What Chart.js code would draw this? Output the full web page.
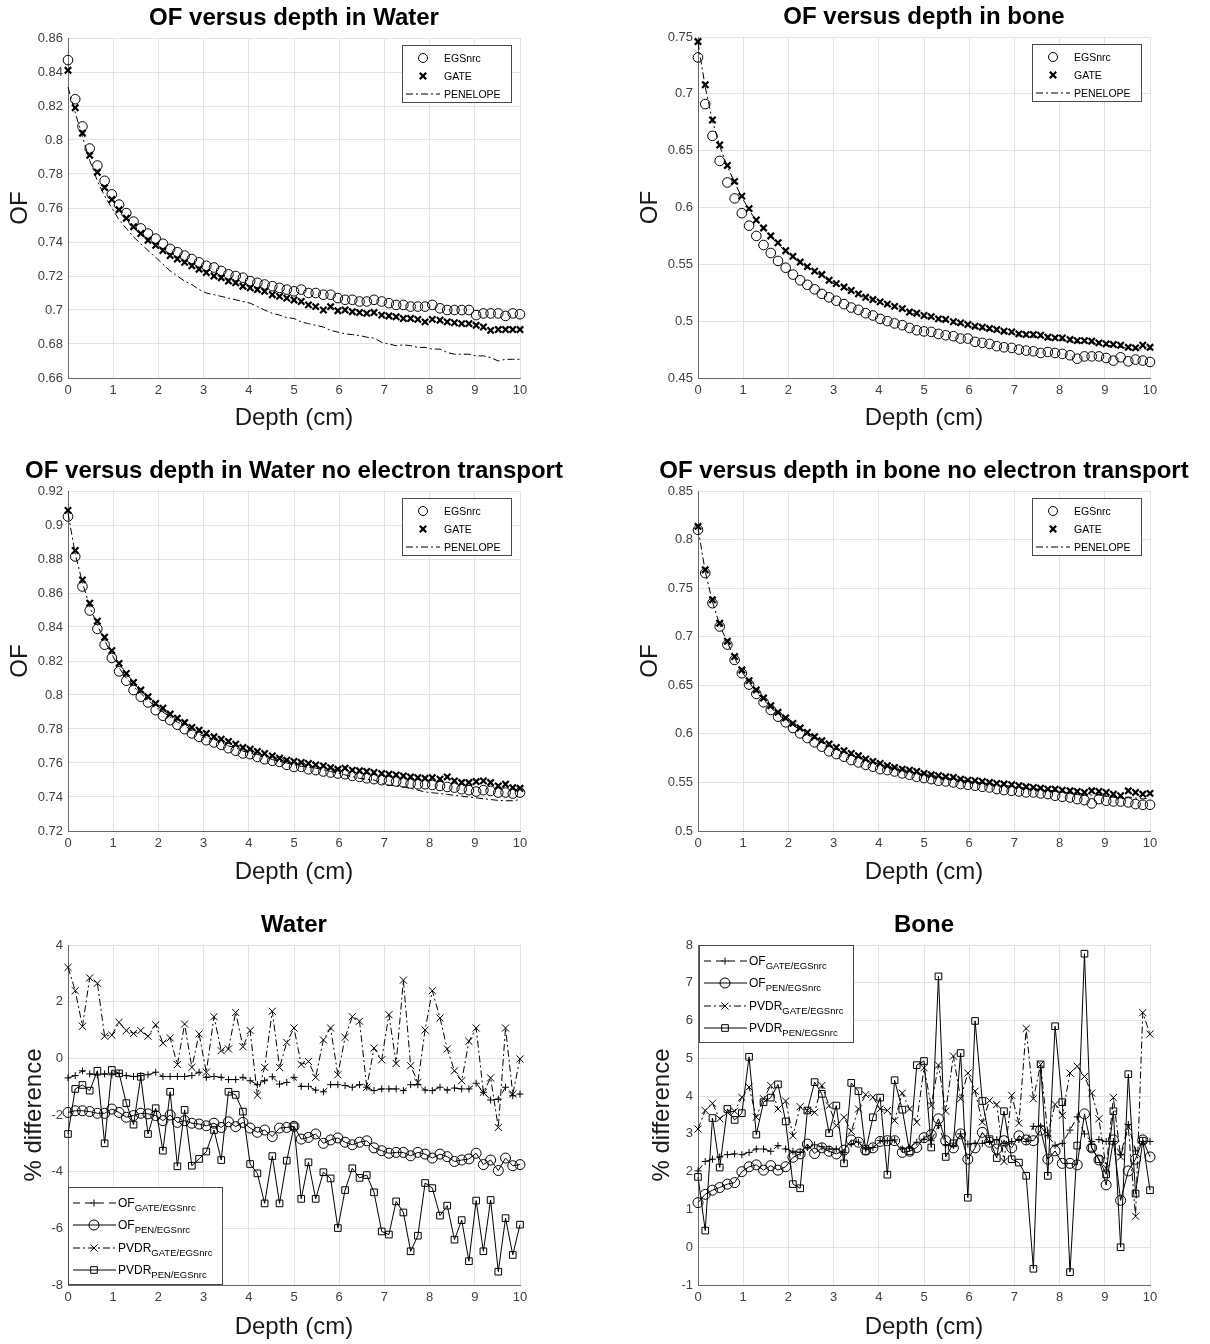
<!DOCTYPE html>
<html>
<head>
<meta charset="utf-8">
<title>OF versus depth</title>
<script src="https://cdn.jsdelivr.net/npm/chart.js@4.4.1/dist/chart.umd.min.js"></script>
<style>
  html, body { margin: 0; padding: 0; background: #fff; }
  #page { position: relative; width: 1210px; height: 1344px; overflow: hidden; }
  #page canvas { position: absolute; }
</style>
</head>
<body>
<div id="page">
  <canvas id="c1" width="605" height="448" style="left:0;top:0"></canvas>
  <canvas id="c2" width="605" height="448" style="left:605px;top:0"></canvas>
  <canvas id="c3" width="605" height="448" style="left:0;top:448px"></canvas>
  <canvas id="c4" width="605" height="448" style="left:605px;top:448px"></canvas>
  <canvas id="c5" width="605" height="448" style="left:0;top:896px"></canvas>
  <canvas id="c6" width="605" height="448" style="left:605px;top:896px"></canvas>
</div>
<script>
// depth positions (cm), shared by every series
const depthCm = [
  0, 0.16, 0.32, 0.48, 0.65, 0.81, 0.97, 1.13, 1.29, 1.45,
  1.61, 1.77, 1.94, 2.10, 2.26, 2.42, 2.58, 2.74, 2.90, 3.06,
  3.23, 3.39, 3.55, 3.71, 3.87, 4.03, 4.19, 4.35, 4.52, 4.68,
  4.84, 5.00, 5.16, 5.32, 5.48, 5.65, 5.81, 5.97, 6.13, 6.29,
  6.45, 6.61, 6.77, 6.94, 7.10, 7.26, 7.42, 7.58, 7.74, 7.90,
  8.06, 8.23, 8.39, 8.55, 8.71, 8.87, 9.03, 9.19, 9.35, 9.52,
  9.68, 9.84, 10.00
];

// OF in water
const waterEgs = [
  0.847, 0.824, 0.808, 0.795, 0.785, 0.776, 0.768, 0.762, 0.757, 0.752,
  0.748, 0.745, 0.742, 0.739, 0.736, 0.734, 0.732, 0.730, 0.728, 0.726,
  0.725, 0.723, 0.721, 0.720, 0.719, 0.717, 0.716, 0.715, 0.714, 0.713,
  0.712, 0.711, 0.712, 0.710, 0.710, 0.709, 0.709, 0.707, 0.706, 0.706,
  0.705, 0.705, 0.706, 0.705, 0.704, 0.703, 0.703, 0.702, 0.702, 0.702,
  0.703, 0.701, 0.700, 0.700, 0.700, 0.700, 0.697, 0.698, 0.698, 0.698,
  0.6965, 0.698, 0.6975
];
const waterGate = [
  0.841, 0.819, 0.804, 0.791, 0.781, 0.772, 0.765, 0.759, 0.754, 0.749,
  0.745, 0.741, 0.738, 0.735, 0.732, 0.730, 0.728, 0.726, 0.724, 0.722,
  0.720, 0.719, 0.717, 0.716, 0.714, 0.713, 0.712, 0.711, 0.709, 0.708,
  0.707, 0.7059, 0.705, 0.703, 0.702, 0.700, 0.702, 0.6996, 0.700, 0.699,
  0.6985, 0.698, 0.6985, 0.697, 0.6965, 0.696, 0.695, 0.695, 0.6945, 0.693,
  0.6945, 0.694, 0.693, 0.6925, 0.692, 0.692, 0.691, 0.690, 0.688, 0.6885,
  0.6885, 0.6885, 0.6885
];
const waterPen = [
  0.831, 0.816, 0.802, 0.788, 0.776, 0.767, 0.760, 0.753, 0.748, 0.743,
  0.739, 0.735, 0.731, 0.727, 0.723, 0.720, 0.717, 0.715, 0.712, 0.710,
  0.709, 0.708, 0.707, 0.706, 0.705, 0.704, 0.702, 0.700, 0.698, 0.697,
  0.6955, 0.695, 0.693, 0.692, 0.691, 0.690, 0.688, 0.687, 0.686, 0.6855,
  0.685, 0.684, 0.6835, 0.681, 0.680, 0.679, 0.6795, 0.679, 0.678, 0.678,
  0.677, 0.677, 0.675, 0.674, 0.674, 0.674, 0.673, 0.673, 0.672, 0.670,
  0.671, 0.671, 0.671
];

// OF in bone
const boneEgs = [
  0.732, 0.691, 0.663, 0.641, 0.622, 0.608, 0.595, 0.584, 0.575, 0.567,
  0.560, 0.553, 0.547, 0.541, 0.536, 0.532, 0.528, 0.524, 0.521, 0.518,
  0.515, 0.512, 0.510, 0.507, 0.505, 0.502, 0.500, 0.498, 0.4965, 0.494,
  0.492, 0.491, 0.4906, 0.4888, 0.4876, 0.4868, 0.4847, 0.4847, 0.4818, 0.4809,
  0.480, 0.478, 0.477, 0.4765, 0.475, 0.4741, 0.4735, 0.472, 0.4729, 0.472,
  0.4712, 0.470, 0.467, 0.469, 0.469, 0.469, 0.4676, 0.4653, 0.4682, 0.4647,
  0.4662, 0.4653, 0.4641
];
const boneGate = [
  0.746, 0.708, 0.677, 0.655, 0.637, 0.623, 0.610, 0.599, 0.589, 0.582,
  0.575, 0.569, 0.562, 0.557, 0.552, 0.548, 0.544, 0.541, 0.536, 0.533,
  0.530, 0.527, 0.524, 0.521, 0.519, 0.517, 0.515, 0.513, 0.511, 0.508,
  0.507, 0.505, 0.504, 0.502, 0.5015, 0.4995, 0.4985, 0.497, 0.4956, 0.4947,
  0.4935, 0.4926, 0.4912, 0.4906, 0.4888, 0.4882, 0.4882, 0.4876, 0.4859, 0.4853,
  0.4853, 0.4838, 0.4829, 0.4829, 0.4824, 0.4809, 0.480, 0.4794, 0.4788, 0.477,
  0.4765, 0.4788, 0.477
];
const bonePen = [
  0.745, 0.706, 0.676, 0.654, 0.636, 0.622, 0.609, 0.598, 0.588, 0.581,
  0.574, 0.568, 0.561, 0.556, 0.551, 0.547, 0.543, 0.540, 0.535, 0.532,
  0.529, 0.526, 0.523, 0.520, 0.518, 0.516, 0.514, 0.512, 0.510, 0.507,
  0.506, 0.504, 0.503, 0.501, 0.500, 0.498, 0.497, 0.496, 0.494, 0.493,
  0.492, 0.491, 0.490, 0.489, 0.487, 0.487, 0.486, 0.486, 0.484, 0.484,
  0.483, 0.482, 0.481, 0.481, 0.481, 0.479, 0.479, 0.478, 0.477, 0.476,
  0.475, 0.476, 0.475
];

// OF in water, no electron transport
const waterNoEEgs = [
  0.905, 0.8815, 0.8638, 0.8497, 0.8389, 0.8296, 0.8218, 0.8139, 0.8084, 0.8029,
  0.799, 0.7956, 0.7911, 0.7878, 0.7852, 0.7825, 0.7799, 0.7774, 0.7754, 0.7734,
  0.7721, 0.7707, 0.7687, 0.7672, 0.7656, 0.7652, 0.7636, 0.7622, 0.7613, 0.7607,
  0.7589, 0.7577, 0.7577, 0.7563, 0.7558, 0.755, 0.7544, 0.7538, 0.7534, 0.7524,
  0.7518, 0.751, 0.7505, 0.7499, 0.7495, 0.7491, 0.7485, 0.7479, 0.7475, 0.7475,
  0.7471, 0.7465, 0.7459, 0.7455, 0.7446, 0.744, 0.7432, 0.744, 0.7436, 0.7426,
  0.7426, 0.742, 0.7426
];
const waterNoEGate = [
  0.9086, 0.885, 0.8677, 0.854, 0.8434, 0.834, 0.8261, 0.8186, 0.8127, 0.8074,
  0.8029, 0.799, 0.795, 0.7923, 0.7888, 0.7864, 0.7838, 0.7809, 0.7793, 0.7774,
  0.7754, 0.774, 0.7727, 0.7711, 0.7691, 0.7681, 0.7668, 0.7656, 0.7642, 0.7628,
  0.7617, 0.7609, 0.7603, 0.7597, 0.7589, 0.7583, 0.7573, 0.7563, 0.757, 0.7558,
  0.7554, 0.755, 0.7544, 0.7538, 0.7534, 0.753, 0.7524, 0.7518, 0.7514, 0.751,
  0.7514, 0.7505, 0.7518, 0.7495, 0.7485, 0.7485, 0.7491, 0.7495, 0.7485, 0.7465,
  0.7475, 0.7455, 0.7451
];
const waterNoEPen = [
  0.907, 0.883, 0.866, 0.852, 0.841, 0.832, 0.824, 0.816, 0.810, 0.805,
  0.801, 0.797, 0.793, 0.790, 0.787, 0.784, 0.782, 0.779, 0.777, 0.775,
  0.774, 0.772, 0.770, 0.769, 0.767, 0.766, 0.765, 0.764, 0.762, 0.761,
  0.760, 0.759, 0.758, 0.7575, 0.757, 0.756, 0.755, 0.754, 0.753, 0.752,
  0.751, 0.7505, 0.750, 0.748, 0.747, 0.7465, 0.746, 0.745, 0.744, 0.743,
  0.7425, 0.742, 0.7415, 0.741, 0.7405, 0.740, 0.7395, 0.739, 0.7385, 0.738,
  0.7378, 0.7378, 0.7385
];

// OF in bone, no electron transport
const boneNoEEgs = [
  0.810, 0.7655, 0.7345, 0.7105, 0.6919, 0.6761, 0.6624, 0.6507, 0.6411, 0.6325,
  0.6246, 0.6177, 0.6119, 0.606, 0.6005, 0.5957, 0.5912, 0.5868, 0.582, 0.5792,
  0.5765, 0.573, 0.5706, 0.5682, 0.5662, 0.5637, 0.5627, 0.5613, 0.5593, 0.5579,
  0.5558, 0.5545, 0.5534, 0.5517, 0.551, 0.55, 0.5483, 0.5476, 0.5466, 0.5455,
  0.5448, 0.5431, 0.5421, 0.5414, 0.5407, 0.5397, 0.5397, 0.5387, 0.538, 0.5363,
  0.5352, 0.5345, 0.5328, 0.5318, 0.5284, 0.5328, 0.5311, 0.5304, 0.5304, 0.5294,
  0.5277, 0.527, 0.527
];
const boneNoEGate = [
  0.8136, 0.7689, 0.738, 0.7139, 0.6954, 0.6796, 0.6658, 0.6548, 0.6452, 0.6369,
  0.629, 0.6222, 0.6163, 0.6108, 0.606, 0.6015, 0.5971, 0.593, 0.5895, 0.5861,
  0.5827, 0.5799, 0.5775, 0.5741, 0.5717, 0.5696, 0.5672, 0.5655, 0.5637, 0.5627,
  0.5613, 0.5593, 0.5579, 0.5569, 0.5558, 0.5552, 0.5534, 0.5524, 0.5517, 0.551,
  0.55, 0.549, 0.5483, 0.5476, 0.5466, 0.5455, 0.5448, 0.5441, 0.5431, 0.5431,
  0.5421, 0.5414, 0.5407, 0.5397, 0.5414, 0.5407, 0.5397, 0.538, 0.5363, 0.5414,
  0.5397, 0.538, 0.5387
];
const boneNoEPen = [
  0.812, 0.767, 0.736, 0.712, 0.694, 0.678, 0.664, 0.653, 0.643, 0.635,
  0.627, 0.620, 0.614, 0.609, 0.604, 0.599, 0.595, 0.591, 0.587, 0.584,
  0.581, 0.578, 0.576, 0.573, 0.571, 0.569, 0.566, 0.564, 0.562, 0.561,
  0.559, 0.558, 0.557, 0.556, 0.554, 0.553, 0.552, 0.551, 0.550, 0.549,
  0.548, 0.548, 0.547, 0.546, 0.545, 0.544, 0.543, 0.543, 0.542, 0.541,
  0.540, 0.539, 0.539, 0.538, 0.537, 0.537, 0.536, 0.535, 0.534, 0.535,
  0.534, 0.533, 0.534
];

// % difference, water
const waterOfGate = [
  -0.69, -0.61, -0.44, -0.55, -0.59, -0.55, -0.58, -0.53, -0.61, -0.64,
  -0.61, -0.58, -0.49, -0.64, -0.64, -0.64, -0.64, -0.61, -0.49, -0.67,
  -0.64, -0.67, -0.75, -0.75, -0.67, -0.79, -0.93, -0.79, -0.65, -0.91,
  -0.85, -0.67, -0.99, -0.99, -1.12, -1.18, -0.93, -0.93, -0.96, -1.02,
  -0.93, -1.02, -1.14, -1.08, -1.08, -1.08, -1.14, -0.93, -0.93, -1.12,
  -1.14, -1.02, -1.12, -1.05, -1.08, -1.08, -0.88, -1.20, -1.47, -1.44,
  -1.02, -1.32, -1.26
];
const waterOfPen = [
  -1.91, -1.85, -1.85, -1.88, -1.94, -1.94, -1.79, -1.91, -2.08, -2.02,
  -1.94, -1.96, -2.02, -2.20, -2.00, -2.26, -2.20, -2.29, -2.32, -2.38,
  -2.29, -2.44, -2.24, -2.41, -2.26, -2.46, -2.61, -2.53, -2.76, -2.46,
  -2.44, -2.40, -2.85, -2.79, -2.67, -3.00, -2.88, -2.81, -2.96, -3.05,
  -2.96, -2.91, -3.16, -3.26, -3.35, -3.32, -3.32, -3.44, -3.32, -3.38,
  -3.52, -3.38, -3.47, -3.64, -3.59, -3.55, -3.35, -3.75, -3.59, -3.96,
  -3.52, -3.79, -3.75
];
const waterPvdrGate = [
  3.21, 2.39, 1.13, 2.84, 2.65, 0.78, 0.82, 1.27, 0.98, 0.88,
  0.98, 0.78, 1.18, 0.54, 0.72, -0.22, 1.21, -0.32, 0.86, -0.49,
  1.47, 0.27, 0.33, 1.62, 0.41, 0.98, -1.30, -0.32, 1.66, -0.32,
  0.56, 1.07, -0.22, -0.11, -0.67, 0.65, 1.07, -0.58, 0.74, 1.47,
  1.31, -1.02, 0.36, -0.05, 1.54, -0.18, 2.76, -0.26, -0.85, 1.00,
  2.39, 1.42, 0.33, -0.44, -0.79, 0.60, 1.07, -1.20, -0.69, -2.44,
  1.07, -1.26, -0.02
];
const waterPvdrPen = [
  -2.67, -1.08, -0.94, -1.14, -0.44, -3.00, -0.41, -0.53, -1.58, -2.34,
  -0.65, -2.67, -1.76, -3.26, -1.18, -3.81, -1.82, -3.79, -3.55, -3.29,
  -2.53, -3.59, -1.18, -1.29, -1.88, -3.73, -4.06, -5.12, -3.45, -5.12,
  -3.61, -2.40, -4.96, -3.67, -4.96, -4.02, -4.24, -5.99, -4.65, -3.88,
  -4.22, -4.12, -4.73, -6.11, -6.22, -5.05, -5.44, -6.81, -6.26, -4.40,
  -4.58, -5.55, -5.20, -6.40, -5.71, -7.16, -5.02, -6.81, -5.00, -7.53,
  -5.64, -6.94, -5.87
];

// % difference, bone
const boneOfGate = [
  2.02, 2.27, 2.33, 2.39, 2.45, 2.47, 2.45, 2.51, 2.60, 2.60,
  2.54, 2.69, 2.60, 2.54, 2.51, 2.64, 2.71, 2.66, 2.60, 2.60,
  2.51, 2.73, 2.78, 2.60, 2.64, 2.82, 2.82, 2.84, 2.60, 2.63,
  2.78, 2.86, 2.82, 3.22, 2.71, 2.69, 3.00, 2.73, 2.75, 2.75,
  2.80, 2.85, 2.75, 2.80, 2.85, 2.80, 3.20, 3.20, 2.95, 2.70,
  2.75, 3.10, 3.45, 3.00, 2.80, 2.85, 2.80, 2.80, 2.45, 3.25,
  2.55, 2.80, 2.80
];
const boneOfPen = [
  1.18, 1.40, 1.51, 1.58, 1.67, 1.71, 2.00, 2.13, 2.18, 2.04,
  2.16, 2.04, 2.13, 2.38, 2.47, 2.73, 2.48, 2.63, 2.54, 2.47,
  2.57, 2.84, 2.78, 2.57, 2.63, 2.80, 2.82, 2.82, 2.51, 2.54,
  2.64, 2.90, 2.98, 3.40, 2.82, 2.63, 3.00, 2.33, 2.63, 3.04,
  2.78, 2.60, 2.82, 2.63, 2.95, 2.84, 2.82, 3.10, 2.33, 2.55,
  2.22, 2.22, 2.18, 3.53, 2.63, 2.31, 1.65, 2.84, 1.24, 2.02,
  2.33, 2.84, 2.39
];
const bonePvdrGate = [
  3.13, 3.62, 3.81, 3.40, 3.57, 3.60, 3.97, 4.24, 3.44, 3.93,
  4.28, 3.66, 3.87, 2.95, 3.72, 3.62, 3.57, 4.28, 3.75, 3.22,
  3.44, 3.07, 3.66, 4.04, 3.97, 3.66, 3.62, 3.35, 4.08, 3.66,
  3.31, 4.75, 3.75, 4.82, 3.60, 5.06, 3.93, 4.61, 4.13, 3.31,
  3.88, 3.78, 2.27, 4.02, 3.28, 5.79, 3.93, 4.84, 3.00, 3.78,
  3.49, 4.61, 4.79, 4.52, 4.08, 3.40, 2.09, 3.96, 2.39, 3.18,
  0.82, 6.21, 5.64
];
const bonePvdrPen = [
  1.86, 0.44, 3.42, 2.11, 3.66, 3.37, 3.55, 5.04, 2.98, 3.84,
  3.96, 4.31, 3.33, 1.67, 1.56, 3.62, 4.37, 4.06, 3.02, 3.75,
  2.22, 4.35, 4.13, 2.55, 3.44, 3.96, 1.92, 4.42, 3.64, 2.54,
  4.82, 4.93, 2.64, 7.17, 2.39, 2.75, 5.14, 1.31, 5.99, 3.87,
  2.86, 2.36, 3.60, 2.33, 2.24, 1.89, -0.57, 4.84, 1.89, 5.85,
  3.84, -0.66, 2.69, 7.77, 2.63, 2.33, 1.93, 3.60, 0.00, 4.58,
  1.42, 2.82, 1.51
];

const FONT = '"Liberation Sans", Arial, Helvetica, sans-serif';
const DASH_DOT = [7, 3, 2, 3];
const DASHED = [7, 5];

function pts(arr) {
  return depthCm.map((d, i) => ({ x: d, y: arr[i] }));
}

function markerOnly(label, arr, style, r, bw) {
  return {
    label, data: pts(arr), showLine: false, clip: false,
    pointStyle: style, pointRadius: r, pointBorderWidth: bw,
    pointBorderColor: '#000', pointBackgroundColor: 'rgba(0,0,0,0)'
  };
}

function lineOnly(label, arr, dash) {
  return {
    label, data: pts(arr), borderColor: '#000', borderWidth: 1, clip: false,
    borderDash: dash, pointRadius: 0, tension: 0, fill: false
  };
}

function lineMarker(label, arr, dash, style, r) {
  return {
    label, data: pts(arr), borderColor: '#000', borderWidth: 1, borderDash: dash,
    tension: 0, fill: false, clip: false, pointStyle: style, pointRadius: r, pointBorderWidth: 1,
    pointBorderColor: '#000', pointBackgroundColor: 'rgba(0,0,0,0)'
  };
}

function drawMarker(ctx, style, x, y, r) {
  ctx.beginPath();
  if (style === 'circle') {
    ctx.arc(x, y, r, 0, Math.PI * 2);
  } else if (style === 'rect') {
    const s = r * Math.SQRT1_2;
    ctx.rect(x - s, y - s, 2 * s, 2 * s);
  } else if (style === 'cross') {
    ctx.moveTo(x - r, y); ctx.lineTo(x + r, y);
    ctx.moveTo(x, y - r); ctx.lineTo(x, y + r);
  } else if (style === 'crossRot') {
    const s = r * Math.SQRT1_2;
    ctx.moveTo(x - s, y - s); ctx.lineTo(x + s, y + s);
    ctx.moveTo(x + s, y - s); ctx.lineTo(x - s, y + s);
  }
  ctx.stroke();
}

// bold title above the plot area
const panelTitle = {
  id: 'panelTitle',
  afterDraw(chart, args, opts) {
    const a = chart.chartArea, ctx = chart.ctx;
    ctx.save();
    ctx.font = 'bold 24px ' + FONT;
    ctx.fillStyle = '#000';
    ctx.textAlign = 'center';
    ctx.textBaseline = 'middle';
    ctx.fillText(opts.text, (a.left + a.right) / 2, a.top - 20);
    ctx.restore();
  }
};

// boxed legend drawn inside the axes, matlab style
const boxLegend = {
  id: 'boxLegend',
  afterDraw(chart, args, o) {
    if (!o || !o.items) return;
    const ctx = chart.ctx, a = chart.chartArea;
    const x0 = o.anchor === 'tr' ? a.right - o.dx - o.w : a.left + o.dx;
    const y0 = o.anchor === 'bl' ? a.bottom - o.h : a.top + o.dy;
    ctx.save();
    ctx.fillStyle = '#fff';
    ctx.fillRect(x0, y0, o.w, o.h);
    ctx.strokeStyle = '#4a4a4a';
    ctx.lineWidth = 1;
    ctx.strokeRect(Math.round(x0) + 0.5, Math.round(y0) + 0.5, o.w - 1, o.h - 1);
    o.items.forEach((it, k) => {
      const y = y0 + o.rows[k];
      ctx.strokeStyle = '#000';
      ctx.lineWidth = 1;
      if (it.line) {
        ctx.setLineDash(it.line);
        ctx.beginPath();
        ctx.moveTo(x0 + o.line[0], y);
        ctx.lineTo(x0 + o.line[1], y);
        ctx.stroke();
        ctx.setLineDash([]);
      }
      if (it.marker) {
        ctx.lineWidth = it.mw || 1;
        drawMarker(ctx, it.marker, x0 + o.markerX, y, it.r);
        ctx.lineWidth = 1;
      }
      ctx.fillStyle = '#000';
      ctx.textAlign = 'left';
      ctx.textBaseline = 'alphabetic';
      ctx.font = o.fontSize + 'px ' + FONT;
      const tx = x0 + o.textX;
      const base = y + o.fontSize * 0.36;
      ctx.fillText(it.label, tx, base);
      if (it.sub) {
        const lw = ctx.measureText(it.label).width;
        ctx.font = o.subSize + 'px ' + FONT;
        ctx.fillText(it.sub, tx + lw, base + 4);
      }
    });
    ctx.restore();
  }
};

const fmt = v => String(Math.round(v * 1000) / 1000);

function makeChart(id, cfg) {
  return new Chart(document.getElementById(id), {
    type: 'line',
    data: { datasets: cfg.datasets },
    plugins: [panelTitle, boxLegend],
    options: {
      responsive: false,
      animation: false,
      devicePixelRatio: 1,
      layout: { padding: { top: cfg.top, right: cfg.right, left: 0, bottom: 0 } },
      plugins: {
        legend: { display: false },
        tooltip: { enabled: false },
        panelTitle: { text: cfg.title },
        boxLegend: cfg.legend
      },
      scales: {
        x: {
          type: 'linear', min: 0, max: 10,
          ticks: { stepSize: 1, padding: 5, color: '#404040', autoSkip: false, maxRotation: 0,
                   font: { size: 13, family: FONT }, callback: fmt },
          grid: { color: '#e3e3e3', drawTicks: false },
          border: { color: '#6a6a6a', width: 1 },
          title: { display: true, text: 'Depth (cm)', color: '#1a1a1a',
                   font: { size: 24, family: FONT }, padding: { top: 0, bottom: cfg.xTitlePad } },
          afterFit: s => { s.height = cfg.xH; }
        },
        y: {
          type: 'linear', min: cfg.yMin, max: cfg.yMax,
          ticks: { stepSize: cfg.yStep, padding: 5, color: '#404040', autoSkip: false,
                   font: { size: 13, family: FONT }, callback: fmt },
          grid: { color: '#e3e3e3', drawTicks: false },
          border: { color: '#6a6a6a', width: 1 },
          title: { display: true, text: cfg.yTitle, color: '#1a1a1a',
                   font: { size: 24, family: FONT }, padding: { top: cfg.yTitlePad, bottom: 0 } },
          afterFit: s => { s.width = cfg.yW; }
        }
      }
    }
  });
}

const topLegend = {
  anchor: 'tr', dx: 8, dy: 7, w: 110, h: 58,
  rows: [13, 31, 49], line: [4, 38], markerX: 21, textX: 42,
  fontSize: 10.5, subSize: 9,
  items: [
    { label: 'EGSnrc', marker: 'circle', r: 4.5 },
    { label: 'GATE', marker: 'crossRot', r: 4.5, mw: 2.2 },
    { label: 'PENELOPE', line: DASH_DOT }
  ]
};

function diffLegend(anchor, dx) {
  return {
    anchor, dx, dy: 0, w: 155, h: 98,
    rows: [16, 38, 61, 83], line: [5, 48], markerX: 26, textX: 50,
    fontSize: 12, subSize: 9.5,
    items: [
      { label: 'OF', sub: 'GATE/EGSnrc', line: DASHED, marker: 'cross', r: 3.5 },
      { label: 'OF', sub: 'PEN/EGSnrc', line: [], marker: 'circle', r: 5 },
      { label: 'PVDR', sub: 'GATE/EGSnrc', line: DASH_DOT, marker: 'crossRot', r: 5 },
      { label: 'PVDR', sub: 'PEN/EGSnrc', line: [], marker: 'rect', r: 4.7 }
    ]
  };
}

function ofSets(egs, gate, pen) {
  return [
    markerOnly('GATE', gate, 'crossRot', 4.5, 2.2),
    markerOnly('EGSnrc', egs, 'circle', 4.8, 1),
    lineOnly('PENELOPE', pen, DASH_DOT)
  ];
}

function diffSets(ofGate, ofPen, pvdrGate, pvdrPen) {
  return [
    lineMarker('OF GATE/EGSnrc', ofGate, DASHED, 'cross', 3.5),
    lineMarker('OF PEN/EGSnrc', ofPen, [], 'circle', 5),
    lineMarker('PVDR GATE/EGSnrc', pvdrGate, DASH_DOT, 'crossRot', 5),
    lineMarker('PVDR PEN/EGSnrc', pvdrPen, [], 'rect', 4.7)
  ];
}

const LEFT = { yW: 68, right: 85 };
const RIGHT = { yW: 93, right: 60 };

makeChart('c1', Object.assign({}, LEFT, {
  title: 'OF versus depth in Water', top: 38, xH: 70, xTitlePad: 15,
  yMin: 0.66, yMax: 0.86, yStep: 0.02, yTitle: 'OF', yTitlePad: 6,
  legend: topLegend, datasets: ofSets(waterEgs, waterGate, waterPen)
}));
makeChart('c2', Object.assign({}, RIGHT, {
  title: 'OF versus depth in bone', top: 37, xH: 70, xTitlePad: 15,
  yMin: 0.45, yMax: 0.75, yStep: 0.05, yTitle: 'OF', yTitlePad: 31,
  legend: topLegend, datasets: ofSets(boneEgs, boneGate, bonePen)
}));
makeChart('c3', Object.assign({}, LEFT, {
  title: 'OF versus depth in Water no electron transport', top: 43, xH: 65, xTitlePad: 9,
  yMin: 0.72, yMax: 0.92, yStep: 0.02, yTitle: 'OF', yTitlePad: 6,
  legend: topLegend, datasets: ofSets(waterNoEEgs, waterNoEGate, waterNoEPen)
}));
makeChart('c4', Object.assign({}, RIGHT, {
  title: 'OF versus depth in bone no electron transport', top: 43, xH: 65, xTitlePad: 9,
  yMin: 0.5, yMax: 0.85, yStep: 0.05, yTitle: 'OF', yTitlePad: 31,
  legend: topLegend, datasets: ofSets(boneNoEEgs, boneNoEGate, boneNoEPen)
}));
makeChart('c5', Object.assign({}, LEFT, {
  title: 'Water', top: 49, xH: 59, xTitlePad: 2,
  yMin: -8, yMax: 4, yStep: 2, yTitle: '% difference', yTitlePad: 20,
  legend: diffLegend('bl', 0),
  datasets: diffSets(waterOfGate, waterOfPen, waterPvdrGate, waterPvdrPen)
}));
makeChart('c6', Object.assign({}, RIGHT, {
  title: 'Bone', top: 49, xH: 59, xTitlePad: 2,
  yMin: -1, yMax: 8, yStep: 1, yTitle: '% difference', yTitlePad: 43,
  legend: diffLegend('tl', 1),
  datasets: diffSets(boneOfGate, boneOfPen, bonePvdrGate, bonePvdrPen)
}));
</script>
</body>
</html>
